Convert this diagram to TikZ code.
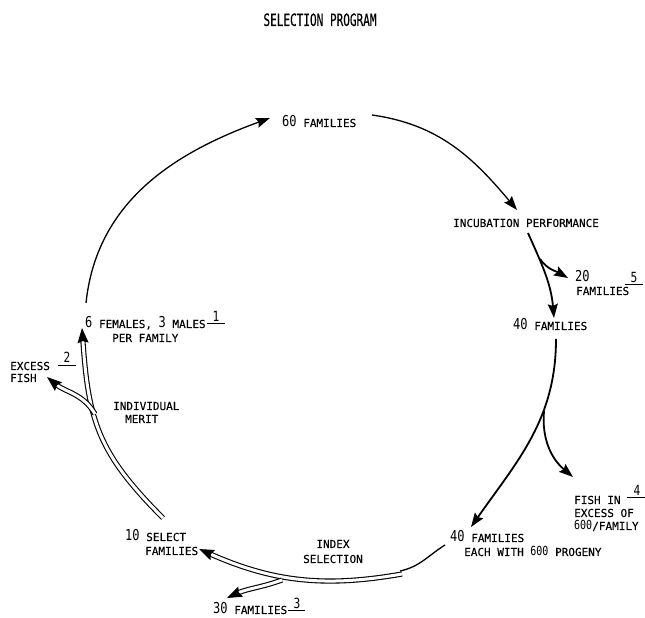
\documentclass[tikz,border=0pt]{standalone}
\usepackage{fontspec}
\usetikzlibrary{arrows.meta}
\newfontfamily\lett[FakeBold=0.2]{DejaVu Sans Mono}
\newfontfamily\numf[FakeStretch=0.8]{DejaVu Sans Mono}
\newfontfamily\titf[FakeStretch=0.65,FakeBold=0.2]{DejaVu Sans Mono}
\newcommand{\bignum}[1]{{\numf\fontsize{15}{15}\selectfont #1}}
\newcommand{\midnum}[1]{{\numf\fontsize{12.5}{12.5}\selectfont #1}}
\begin{document}
\begin{tikzpicture}[x=1pt,y=1pt,
  lbl/.style={font=\lett\fontsize{11}{13}\selectfont, inner sep=0pt, anchor=base west},
  ctr/.style={lbl, anchor=base},
  ttl/.style={font=\titf\fontsize{17}{17}\selectfont, inner sep=0pt, anchor=base},
  num/.style={font=\numf\fontsize{14}{14}\selectfont, inner sep=0pt, anchor=base},
  tip/.style={-{Stealth[length=14pt,width=10pt,inset=2pt]}},
  thinarc/.style={line width=1.3pt},
  arcarrow/.style={line width=1.3pt, tip},
  flow/.style={line width=1.8pt, tip},
  dbl/.style={double=white, double distance=3pt, line width=1.1pt, shorten >=11pt},
  tiponly/.style={line width=1pt, dash pattern=on 0pt off 10000pt, line cap=butt,
    -{Stealth[length=15pt,width=11pt,inset=2pt]}},
  uline/.style={line width=1pt}]
\useasboundingbox[fill=white] (0,0) rectangle (645,618);

% ---- text nodes
\node[ttl] (title) at (320,592) {SELECTION PROGRAM};
\node[lbl] (n60) at (282,491) {\bignum{60} FAMILIES};
\node[lbl] (ninc) at (453,391) {INCUBATION PERFORMANCE};
\node[lbl] (n20a) at (575,336) {\bignum{20}};
\node[lbl] (n20b) at (576,323) {FAMILIES};
\node[num] (u5) at (634,335) {5};
\node[lbl] (n40a) at (513,288) {\bignum{40} FAMILIES};
\node[lbl] (nf1) at (574,114) {FISH IN};
\node[lbl] (nf2) at (574,101) {EXCESS OF};
\node[lbl] (nf3) at (574,88) {\midnum{600}/FAMILY};
\node[num] (u4) at (637,122) {4};
\node[lbl] (n40b) at (450,76) {\bignum{40} FAMILIES};
\node[lbl] (n40c) at (464,62) {EACH WITH \midnum{600} PROGENY};
\node[ctr] (nidx1) at (333,70) {INDEX};
\node[ctr] (nidx2) at (333,55) {SELECTION};
\node[lbl] (n10a) at (125,77) {\bignum{10} SELECT};
\node[lbl] (n10b) at (145,63) {FAMILIES};
\node[lbl] (n30) at (213,4) {\bignum{30} FAMILIES};
\node[num] (u3) at (297,9) {3};
\node[lbl] (n6) at (85,290) {\bignum{6} FEMALES, \bignum{3} MALES};
\node[num] (u1) at (216,296) {1};
\node[lbl] (nper) at (112,276) {PER FAMILY};
\node[lbl] (nex1) at (10,248) {EXCESS};
\node[lbl] (nex2) at (10,236) {FISH};
\node[num] (u2) at (67,255) {2};
\node[lbl] (nind1) at (113,208) {INDIVIDUAL};
\node[lbl] (nind2) at (125,195) {MERIT};

% ---- underlines of the footnote numbers
\draw[uline] ([xshift=-9pt,yshift=-2pt]u5.base) -- ([xshift=9pt,yshift=-2pt]u5.base);
\draw[uline] ([xshift=-10pt,yshift=-2pt]u4.base) -- ([xshift=8pt,yshift=-2pt]u4.base);
\draw[uline] ([xshift=-9pt,yshift=-2pt]u3.base) -- ([xshift=8pt,yshift=-2pt]u3.base);
\draw[uline] ([xshift=-9pt,yshift=-2pt]u1.base) -- ([xshift=9pt,yshift=-2pt]u1.base);
\draw[uline] ([xshift=-9pt,yshift=-3pt]u2.base) -- ([xshift=9pt,yshift=-3pt]u2.base);

% ---- connector end points
\coordinate (a1s) at (86,315);
\coordinate (a1e) at (270,500);
\coordinate (a2s) at (372,503);
\coordinate (a2e) at (517,408);
\coordinate (a3s) at (528,385);
\coordinate (a3e) at (554,300);
\coordinate (b3) at (540,359);
\coordinate (b3e) at (568,340);
\coordinate (a4s) at (556,279);
\coordinate (a4e) at (471,91);
\coordinate (b4) at (544,207);
\coordinate (b4e) at (573,141);
\coordinate (s5s) at (445,73);
\coordinate (s5e) at (400,47);
\coordinate (d5s) at (402,44);
\coordinate (d5e) at (199,69);
\coordinate (b5) at (282,38);
\coordinate (b5e) at (227,20);
\coordinate (d6s) at (163,100);
\coordinate (d6e) at (82,290);
\coordinate (b6) at (95,204);
\coordinate (b6e) at (47,241);

% ---- cycle
\draw[arcarrow] (a1s) to[out=84,in=200] (a1e);
\draw[arcarrow] (a2s) to[out=-8,in=130] (a2e);
\draw[flow] (a3s) to[out=-66,in=95] (a3e);
\draw[flow] (b3) to[out=-55,in=150] (b3e);
\draw[flow] (a4s) to[out=-90,in=55] (a4e);
\draw[flow] (b4) to[out=-95,in=140] (b4e);
\draw[thinarc] (s5s) to[out=-148,in=12] (s5e);
% double-line arrows: the double stroke, then its filled head
\draw[dbl] (d5s) to[out=190,in=-24] (d5e);
\draw[tiponly] (d5s) to[out=190,in=-24] (d5e);
\draw[dbl] (b5) to[out=200,in=25] (b5e);
\draw[tiponly] (b5) to[out=200,in=25] (b5e);
\draw[dbl] (d6s) to[out=135,in=-86,looseness=1.15] (d6e);
\draw[tiponly] (d6s) to[out=135,in=-86,looseness=1.15] (d6e);
\draw[dbl] (b6) to[out=120,in=-40] (b6e);
\draw[tiponly] (b6) to[out=120,in=-40] (b6e);
\end{tikzpicture}
\end{document}
